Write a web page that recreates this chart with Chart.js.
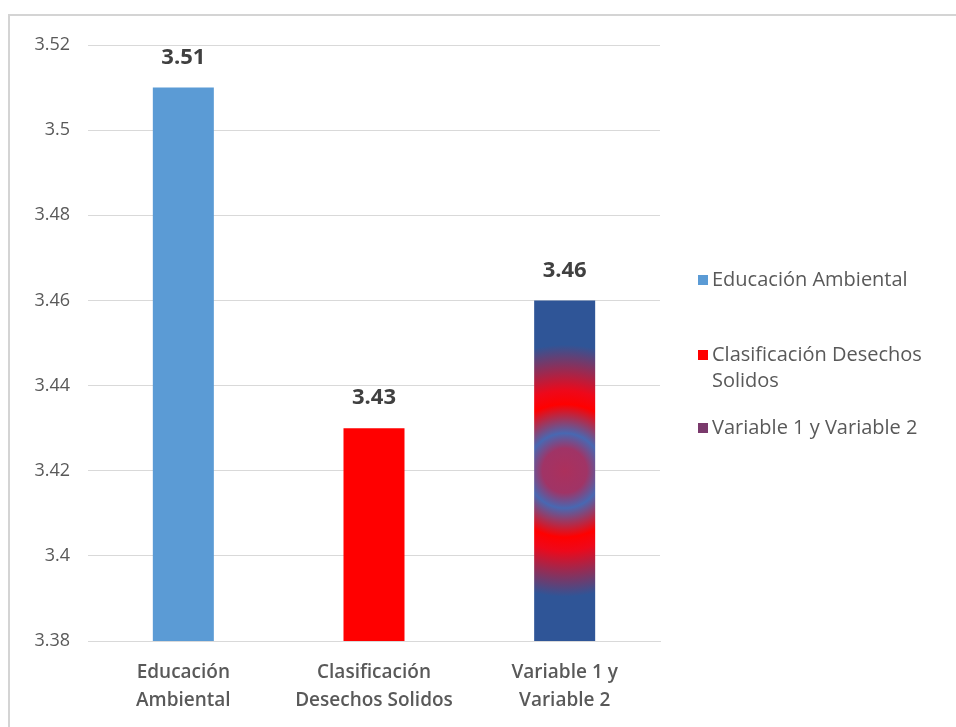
<!DOCTYPE html>
<html>
<head>
<meta charset="utf-8">
<script src="https://cdn.jsdelivr.net/npm/chart.js@4.4.1/dist/chart.umd.min.js"></script>
<style>
  html, body { margin: 0; padding: 0; background: #ffffff; }
  #wrap { position: relative; width: 956px; height: 727px; overflow: hidden; }
  #frame { position: absolute; left: 8px; top: 14px; width: 960px; height: 740px;
           border-left: 2px solid #d4d4d4; border-top: 2px solid #d4d4d4; box-sizing: border-box; }
  canvas { position: absolute; left: 0; top: 0; }
</style>
</head>
<body>
<div id="wrap">
  <div id="frame"></div>
  <canvas id="chart" width="956" height="727"></canvas>
</div>
<script>
// Categories (axis labels split over two lines) and their legend names
const categories = [
  ['Educación', 'Ambiental'],
  ['Clasificación', 'Desechos Solidos'],
  ['Variable 1 y', 'Variable 2']
];
const legendNames = [
  ['Educación Ambiental'],
  ['Clasificación Desechos', 'Solidos'],
  ['Variable 1 y Variable 2']
];
const values = [3.51, 3.43, 3.46];
const yTicks = [3.38, 3.40, 3.42, 3.44, 3.46, 3.48, 3.50, 3.52];

const barColors = ['#5B9BD5', '#FF0000', '#2F5597'];
const legendSwatch = ['#5B9BD5', '#FF0000', '#7A3A6C'];
const FONT = '"Open Sans", "Liberation Sans", sans-serif';
const TEXT = '#595959';

// Radial "from centre" fill for the third bar, built on the bar's own geometry
function ringFill(ctx) {
  const chart = ctx.chart;
  const i = ctx.dataIndex;
  if (i !== 2) return barColors[i];
  const xs = chart.scales.x, ys = chart.scales.y;
  if (!xs || !ys || !chart.chartArea) return barColors[i];
  const cx = xs.getPixelForValue(i);
  const top = ys.getPixelForValue(values[i]);
  const bottom = ys.getPixelForValue(ys.min);
  const cy = (top + bottom) / 2;
  const r = (bottom - top) / 2;
  const g = chart.ctx.createRadialGradient(cx, cy, 0, cx, cy, r);
  g.addColorStop(0.00, 'rgb(172,48,92)');
  g.addColorStop(0.13, 'rgb(160,52,102)');
  g.addColorStop(0.22, 'rgb(72,104,178)');
  g.addColorStop(0.39, 'rgb(255,0,0)');
  g.addColorStop(0.47, 'rgb(238,8,26)');
  g.addColorStop(0.74, 'rgb(47,85,151)');
  g.addColorStop(1.00, 'rgb(47,85,151)');
  return g;
}

// Value labels above each bar
const valueLabels = {
  id: 'valueLabels',
  afterDatasetsDraw(chart) {
    const c = chart.ctx;
    const meta = chart.getDatasetMeta(0);
    c.save();
    c.font = 'bold 22px ' + FONT;
    c.fillStyle = '#404040';
    c.textAlign = 'center';
    c.textBaseline = 'middle';
    meta.data.forEach((bar, k) => {
      c.fillText(values[k].toFixed(2), bar.x, bar.y - 30);
    });
    c.restore();
  }
};

// Legend on the right, one square per category
const sideLegend = {
  id: 'sideLegend',
  afterDraw(chart) {
    const c = chart.ctx;
    const x0 = 698, tx = 712;
    const rows = [280, 355, 428];
    const lh = 26;
    c.save();
    c.font = '20px ' + FONT;
    c.textBaseline = 'middle';
    c.textAlign = 'left';
    legendNames.forEach((lines, k) => {
      c.fillStyle = legendSwatch[k];
      c.fillRect(x0, rows[k] - 5, 10, 10);
      c.fillStyle = TEXT;
      lines.forEach((t, j) => c.fillText(t, tx, rows[k] + j * lh));
    });
    c.restore();
  }
};

new Chart(document.getElementById('chart'), {
  type: 'bar',
  data: {
    labels: categories,
    datasets: [{
      data: values,
      backgroundColor: ringFill,
      borderWidth: 0,
      categoryPercentage: 1,
      barPercentage: 0.32
    }]
  },
  options: {
    responsive: false,
    animation: false,
    devicePixelRatio: 1,
    layout: { padding: { left: 0, right: 296, top: 45, bottom: 0 } },
    plugins: { legend: { display: false }, tooltip: { enabled: false } },
    scales: {
      x: {
        grid: { display: false, drawTicks: false },
        border: { color: '#d9d9d9', width: 1 },
        ticks: {
          color: TEXT, font: { family: FONT, size: 19, weight: '600', lineHeight: 1.47 },
          padding: 18, maxRotation: 0
        },
        afterFit(s) { s.height = 86; }
      },
      y: {
        min: 3.38, max: 3.52,
        afterBuildTicks(s) { s.ticks = yTicks.map(v => ({ value: v })); },
        grid: { color: '#d9d9d9', drawTicks: false },
        border: { display: false },
        ticks: {
          color: TEXT, font: { family: FONT, size: 18 }, padding: 18,
          callback: v => String(+v.toFixed(2))
        },
        afterFit(s) { s.width = 88; }
      }
    }
  },
  plugins: [valueLabels, sideLegend]
});
</script>
</body>
</html>
